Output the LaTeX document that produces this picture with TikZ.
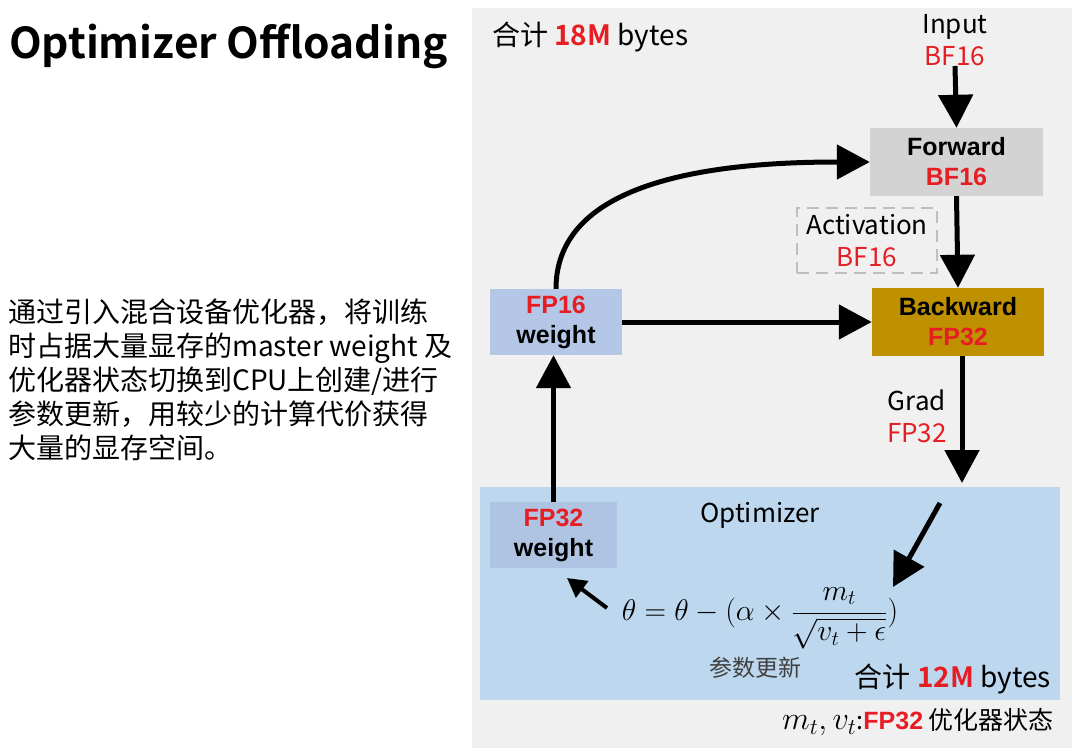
\documentclass[tikz,border=0pt]{standalone}
\usepackage{graphicx}
\usepackage[no-math]{fontspec}
\setmainfont{Noto Sans CJK SC}[BoldFont={Noto Sans CJK SC Bold}]
\newfontfamily\lab{Liberation Sans}
\usetikzlibrary{arrows.meta}
\definecolor{panelgray}{RGB}{240,240,240}
\definecolor{fwdgray}{RGB}{211,211,211}
\definecolor{bwdgold}{RGB}{191,144,0}
\definecolor{wblue}{RGB}{180,199,231}
\definecolor{optblue}{RGB}{189,215,238}
\definecolor{w32blue}{RGB}{174,196,226}
\definecolor{myred}{RGB}{230,30,36}
\definecolor{dashgray}{RGB}{190,190,190}
\definecolor{txtgray}{RGB}{64,64,64}
\tikzset{
  box/.style={inner sep=0pt, align=center, font=\lab\bfseries\fontsize{25}{30}\selectfont},
  lbl/.style={inner sep=0pt, align=center, font=\fontsize{26}{32}\selectfont},
  bigarrow/.style={line width=5pt, -{Triangle[length=33pt,width=34pt]}},
  smallarrow/.style={line width=4pt, -{Triangle[length=19pt,width=20pt]}},
}
\begin{document}
\begin{tikzpicture}[x=1pt,y=-1pt]
\useasboundingbox (0,0) rectangle (1080,755);
% title
\node[anchor=west, inner sep=0pt, font=\bfseries\fontsize{42.5}{48}\selectfont] (title) at (9,46) {Optimizer Offloading};
% description
\node[anchor=north west, inner sep=0pt, align=left, font=\fontsize{28}{33.8}\selectfont] (desc) at (8,299)
  {通过引入混合设备优化器，将训练\\时占据大量显存的master weight 及\\优化器状态切换到CPU上创建/进行\\参数更新，用较少的计算代价获得\\大量的显存空间。};
% panels
\fill[panelgray] (472,8) rectangle (1072,748);
\fill[optblue] (480,487) rectangle (1060,700);
% top total
\node[anchor=west, inner sep=0pt, font=\fontsize{28}{32}\selectfont] (tot18) at (492,37) {合计 \textcolor{myred}{\bfseries 18M} bytes};
% input
\node[lbl] (input) at (955,40) {Input\\\textcolor{myred}{BF16}};
\coordinate (inend) at (955,66);
% forward
\node[box, fill=fwdgray, minimum width=173pt, minimum height=68pt] (fwd) at (956.5,162) {Forward\\\textcolor{myred}{BF16}};
% activation
\node[lbl, draw=dashgray, line width=2.5pt, dash pattern=on 12pt off 7pt, minimum width=140pt, minimum height=65pt] (act) at (867,240.5) {Activation\\\textcolor{myred}{BF16}};
% backward
\node[box, fill=bwdgold, minimum width=172pt, minimum height=68pt] (bwd) at (958,322) {Backward\\\textcolor{myred}{FP32}};
% fp16 weight
\node[box, fill=wblue, minimum width=132pt, minimum height=66pt] (fp16) at (556,322) {\textcolor{myred}{FP16}\\weight};
% grad label
\node[lbl] (grad) at (917,416) {Grad\\\textcolor{myred}{FP32}};
\coordinate (gradend) at (962,483);
% optimizer
\node[lbl] (opt) at (760,515) {Optimizer};
\node[box, fill=w32blue, minimum width=127pt, minimum height=66pt] (fp32) at (553.5,535) {\textcolor{myred}{FP32}\\weight};
\node[inner sep=0pt, font=\fontsize{25}{30}\selectfont] (formula) at (760,618)
  {\scalebox{1.2}{$\displaystyle \theta=\theta-(\alpha\times\frac{m_t}{\sqrt{v_t+\epsilon}})$}};
\node[lbl, text=txtgray, font=\fontsize{23}{28}\selectfont] (upd) at (755,668) {参数更新};
\node[anchor=east, inner sep=0pt, font=\fontsize{28}{32}\selectfont] (tot12) at (1051,679) {合计 \textcolor{myred}{\bfseries 12M} bytes};
\node[anchor=east, inner sep=0pt, font=\fontsize{25}{30}\selectfont] (state) at (1054,722) {\scalebox{1.3}{$m_t,v_t$}:\textcolor{myred}{\lab\bfseries FP32} 优化器状态};
\coordinate (dstart) at (940,503);
\coordinate (dend) at (893,587);
\coordinate (sstart) at (607,608);
\coordinate (send) at (567,578);
% arrows
\draw[bigarrow] (inend) -- (fwd.north);
\draw[bigarrow] (fwd.south) -- (bwd.north);
\draw[bigarrow] (fp16.east) -- (bwd.west);
\draw[bigarrow] (fp16.north) .. controls (556,205) and (650,162) .. (fwd.west);
\draw[bigarrow] (bwd.south -| gradend) -- (gradend);
\draw[bigarrow] (dstart) -- (dend);
\draw[bigarrow] (fp32.north) -- (fp32.north |- fp16.south);
\draw[smallarrow] (sstart) -- (send);
\end{tikzpicture}
\end{document}
